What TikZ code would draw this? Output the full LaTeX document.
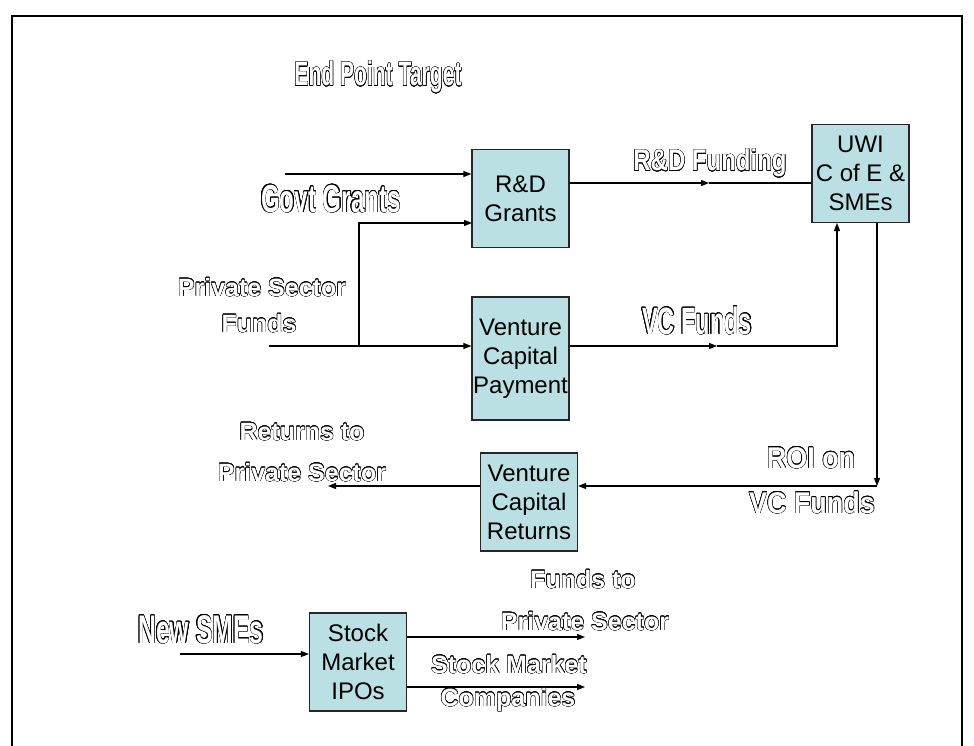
\documentclass[tikz,border=0pt]{standalone}
\usepackage{fontspec}
\setmainfont{Liberation Sans}
\newfontfamily\narrowfont[FakeStretch=0.62]{Liberation Sans}
\newfontfamily\midfont[FakeStretch=0.8]{Liberation Sans}
\newfontfamily\normfont[FakeStretch=0.9]{Liberation Sans}
\usepackage{xcolor}
\usepackage[copies]{contour}
\contourlength{0.4pt}
\usepackage{tikz}
\usetikzlibrary{arrows.meta}
\definecolor{boxfill}{RGB}{187,224,227}
\newcommand{\otext}[1]{\contour{black}{#1}}

\begin{document}
\begin{tikzpicture}[x=1pt, y=-1pt,
  box/.style={draw=black!85, line width=1.1pt, fill=boxfill, minimum width=97pt, minimum height=98pt, inner sep=0pt, align=center, font=\fontsize{24}{29}\selectfont},
  arr/.style={line width=1.1pt, -{Triangle[length=8pt,width=6pt]}},
  line/.style={line width=1.1pt},
  tag/.style={text=white, anchor=base, inner sep=0pt},
  bigtag/.style={tag, font=\narrowfont\bfseries\fontsize{#1}{#1}\selectfont}, bigtag/.default=39,
  midtag/.style={tag, font=\midfont\bfseries\fontsize{30}{30}\selectfont},
  normtag/.style={tag, font=\normfont\bfseries\fontsize{30}{30}\selectfont},
  smalltag/.style={tag, font=\bfseries\fontsize{25}{25}\selectfont}]
  \useasboundingbox (0,0) rectangle (974,746);
  % page frame
  \draw[line width=2pt] (12,746) -- (12,16) -- (962,16) -- (962,746);

  % boxes
  \node[box] (rd) at (520.5,198.5) {R\&D\\Grants};
  \node[box] (uwi) at (860.5,173.5) {UWI\\C of E \&\\SMEs};
  \node[box, minimum height=123pt] (vcp) at (520.5,358.5) {Venture\\Capital\\Payment};
  \node[box] (vcr) at (529,502) {Venture\\Capital\\Returns};
  \node[box] (ipo) at (358,662) {Stock\\Market\\IPOs};

  % free ends
  \coordinate (govt) at (285,174);
  \coordinate (priv) at (269,346);
  \coordinate (branch) at (359,346);
  \coordinate (rdlow) at (472,223);
  \coordinate (rdmid) at (709,183);
  \coordinate (vcmid) at (717,346);
  \coordinate (uwiin) at (837,223);
  \coordinate (roi) at (877,486);
  \coordinate (ret) at (328,486);
  \coordinate (sme) at (180,654);
  \coordinate (fund) at (585,637);
  \coordinate (comp) at (585,687);

  % connectors
  \draw[arr] (govt) -- (govt -| rd.west);
  \draw[arr] (priv) -- (priv -| vcp.west);
  \draw[arr] (branch) |- (rdlow);
  \draw[arr] (rdmid -| rd.east) -- (rdmid);
  \draw[line] (rdmid) -- (rdmid -| uwi.west);
  \draw[arr] (vcmid -| vcp.east) -- (vcmid);
  \draw[arr] (vcmid) -| (uwiin);
  \draw[arr] (uwi.south -| roi) -- (roi);
  \draw[arr] (roi) -- (roi -| vcr.east);
  \draw[arr] (ret -| vcr.west) -- (ret);
  \draw[arr] (sme) -- (sme -| ipo.west);
  \draw[arr] (fund -| ipo.east) -- (fund);
  \draw[arr] (comp -| ipo.east) -- (comp);

  % labels
  \node[bigtag=34] (target) at (378,86) {\otext{End Point Target}};
  \node[bigtag] (govtl) at (331,212) {\otext{Govt Grants}};
  \node[midtag] (rdfl) at (710,171) {\otext{R\&D Funding}};
  \node[bigtag=38] (vcfl) at (697,334) {\otext{VC Funds}};
  \node[smalltag] (privl) at (262,296) {\otext{Private Sector}};
  \node[smalltag] (privl2) at (259,332) {\otext{Funds}};
  \node[smalltag] (retl) at (302,440) {\otext{Returns to}};
  \node[smalltag] (retl2) at (302,481) {\otext{Private Sector}};
  \node[normtag] (roil) at (811,468) {\otext{ROI on}};
  \node[normtag] (roil2) at (812,513) {\otext{VC Funds}};
  \node[bigtag=40] (smel) at (201,643) {\otext{New SMEs}};
  \node[smalltag] (fundl) at (583,588) {\otext{Funds to}};
  \node[smalltag] (fundl2) at (585,630) {\otext{Private Sector}};
  \node[smalltag] (compl) at (509,673) {\otext{Stock Market}};
  \node[smalltag] (compl2) at (508,706) {\otext{Companies}};
\end{tikzpicture}
\end{document}
